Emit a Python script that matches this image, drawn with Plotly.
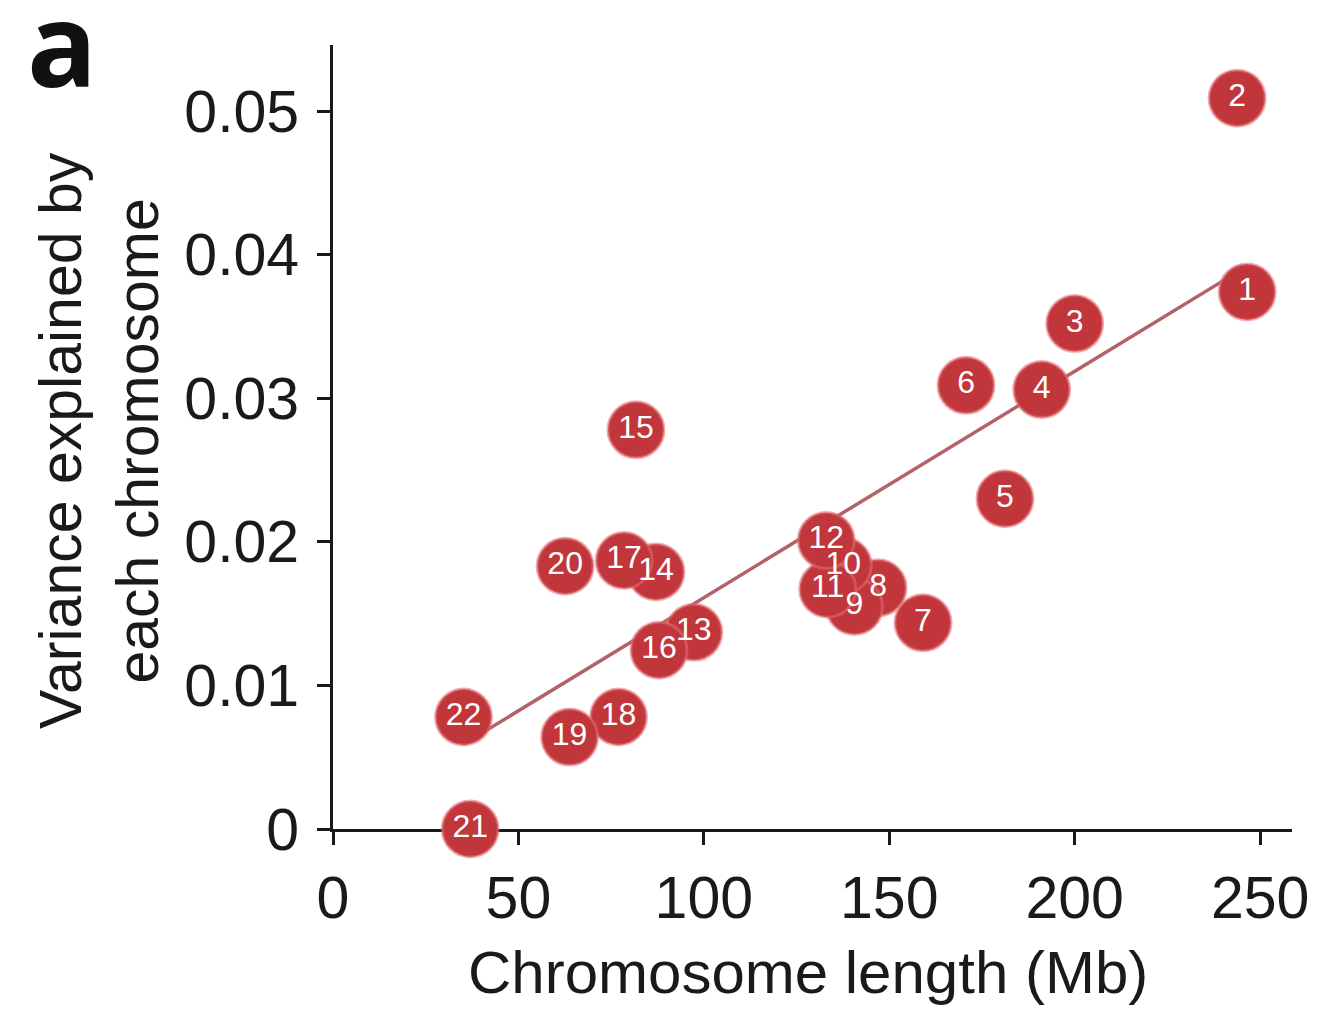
import plotly.graph_objects as go

# Chromosome labels and their (length, variance explained) values
chromosomes = [str(i) for i in range(1, 23)]
length_mb = [246.5, 243.8, 200.0, 191.1, 181.2, 170.7, 159.1, 147.0, 140.6, 137.6,
             133.4, 133.0, 97.3, 87.1, 81.7, 87.9, 78.5, 77.0, 63.8, 62.6, 37.0, 35.2]
variance = [0.0374, 0.0509, 0.0352, 0.0306, 0.0230, 0.0309, 0.01436, 0.01680, 0.01550, 0.01835,
            0.01670, 0.02010, 0.01370, 0.01790, 0.02780, 0.01245, 0.01870, 0.00780, 0.00640, 0.01830,
            0.00000, 0.00780]

# Fitted trend line endpoints
fit_x = [35.2, 246.5]
fit_y = [0.0059, 0.0392]

W, H = 1321, 1011
ML, MR, MT, MB = 333, 21, 45, 182
PW, PH = W - ML - MR, H - MT - MB

def px_x(p):
    return (p - ML) / PW

def px_y(p):
    return (H - MB - p) / PH

FONT = "Liberation Sans, Arial, Helvetica, sans-serif"
DOT = "#c0363b"
INK = "#1a1a1a"

fig = go.Figure()

fig.add_trace(go.Scatter(
    x=fit_x, y=fit_y, mode="lines",
    line=dict(color="#b3626a", width=3.5),
    hoverinfo="skip", showlegend=False,
))

fig.add_trace(go.Scatter(
    x=length_mb, y=variance, mode="markers",
    marker=dict(size=56, color=DOT, line=dict(color="rgba(225,110,115,0.55)", width=3)),
    cliponaxis=False, showlegend=False,
))

fig.add_trace(go.Scatter(
    x=length_mb, y=variance, mode="text", text=chromosomes,
    textposition="middle center",
    textfont=dict(family=FONT, size=32, color="white"),
    cliponaxis=False, showlegend=False,
))

axis_common = dict(
    showgrid=False, zeroline=False, showline=True, linecolor=INK, linewidth=3,
    ticks="outside", ticklen=13, tickwidth=3, tickcolor=INK,
    tickfont=dict(family=FONT, size=59, color=INK),
    layer="below traces",
)

fig.update_layout(
    width=W, height=H,
    margin=dict(l=ML, r=MR, t=MT, b=MB),
    paper_bgcolor="white", plot_bgcolor="white",
    xaxis=dict(range=[0, 258.6], tickvals=[0, 50, 100, 150, 200, 250],
               ticklabelstandoff=2, **axis_common),
    yaxis=dict(range=[0, 0.0546], tickvals=[0, 0.01, 0.02, 0.03, 0.04, 0.05],
               ticktext=["0", "0.01", "0.02", "0.03", "0.04", "0.05"],
               ticklabelstandoff=6, **axis_common),
    annotations=[
        dict(text="Chromosome length (Mb)", xref="paper", yref="paper",
             x=px_x(812), y=px_y(972), xanchor="center", yanchor="middle",
             showarrow=False, font=dict(family=FONT, size=60, color=INK)),
        dict(text="Variance explained by<br>each chromosome", xref="paper", yref="paper",
             x=px_x(97), y=px_y(440), xanchor="center", yanchor="middle",
             textangle=-90, showarrow=False,
             font=dict(family=FONT, size=59, color=INK)),
        dict(text="<b>a</b>", xref="paper", yref="paper",
             x=px_x(22), y=px_y(42), xanchor="left", yanchor="middle",
             showarrow=False, font=dict(family="Open Sans, sans-serif", size=116, color="#111111")),
    ],
)

fig.write_html("out.html")
